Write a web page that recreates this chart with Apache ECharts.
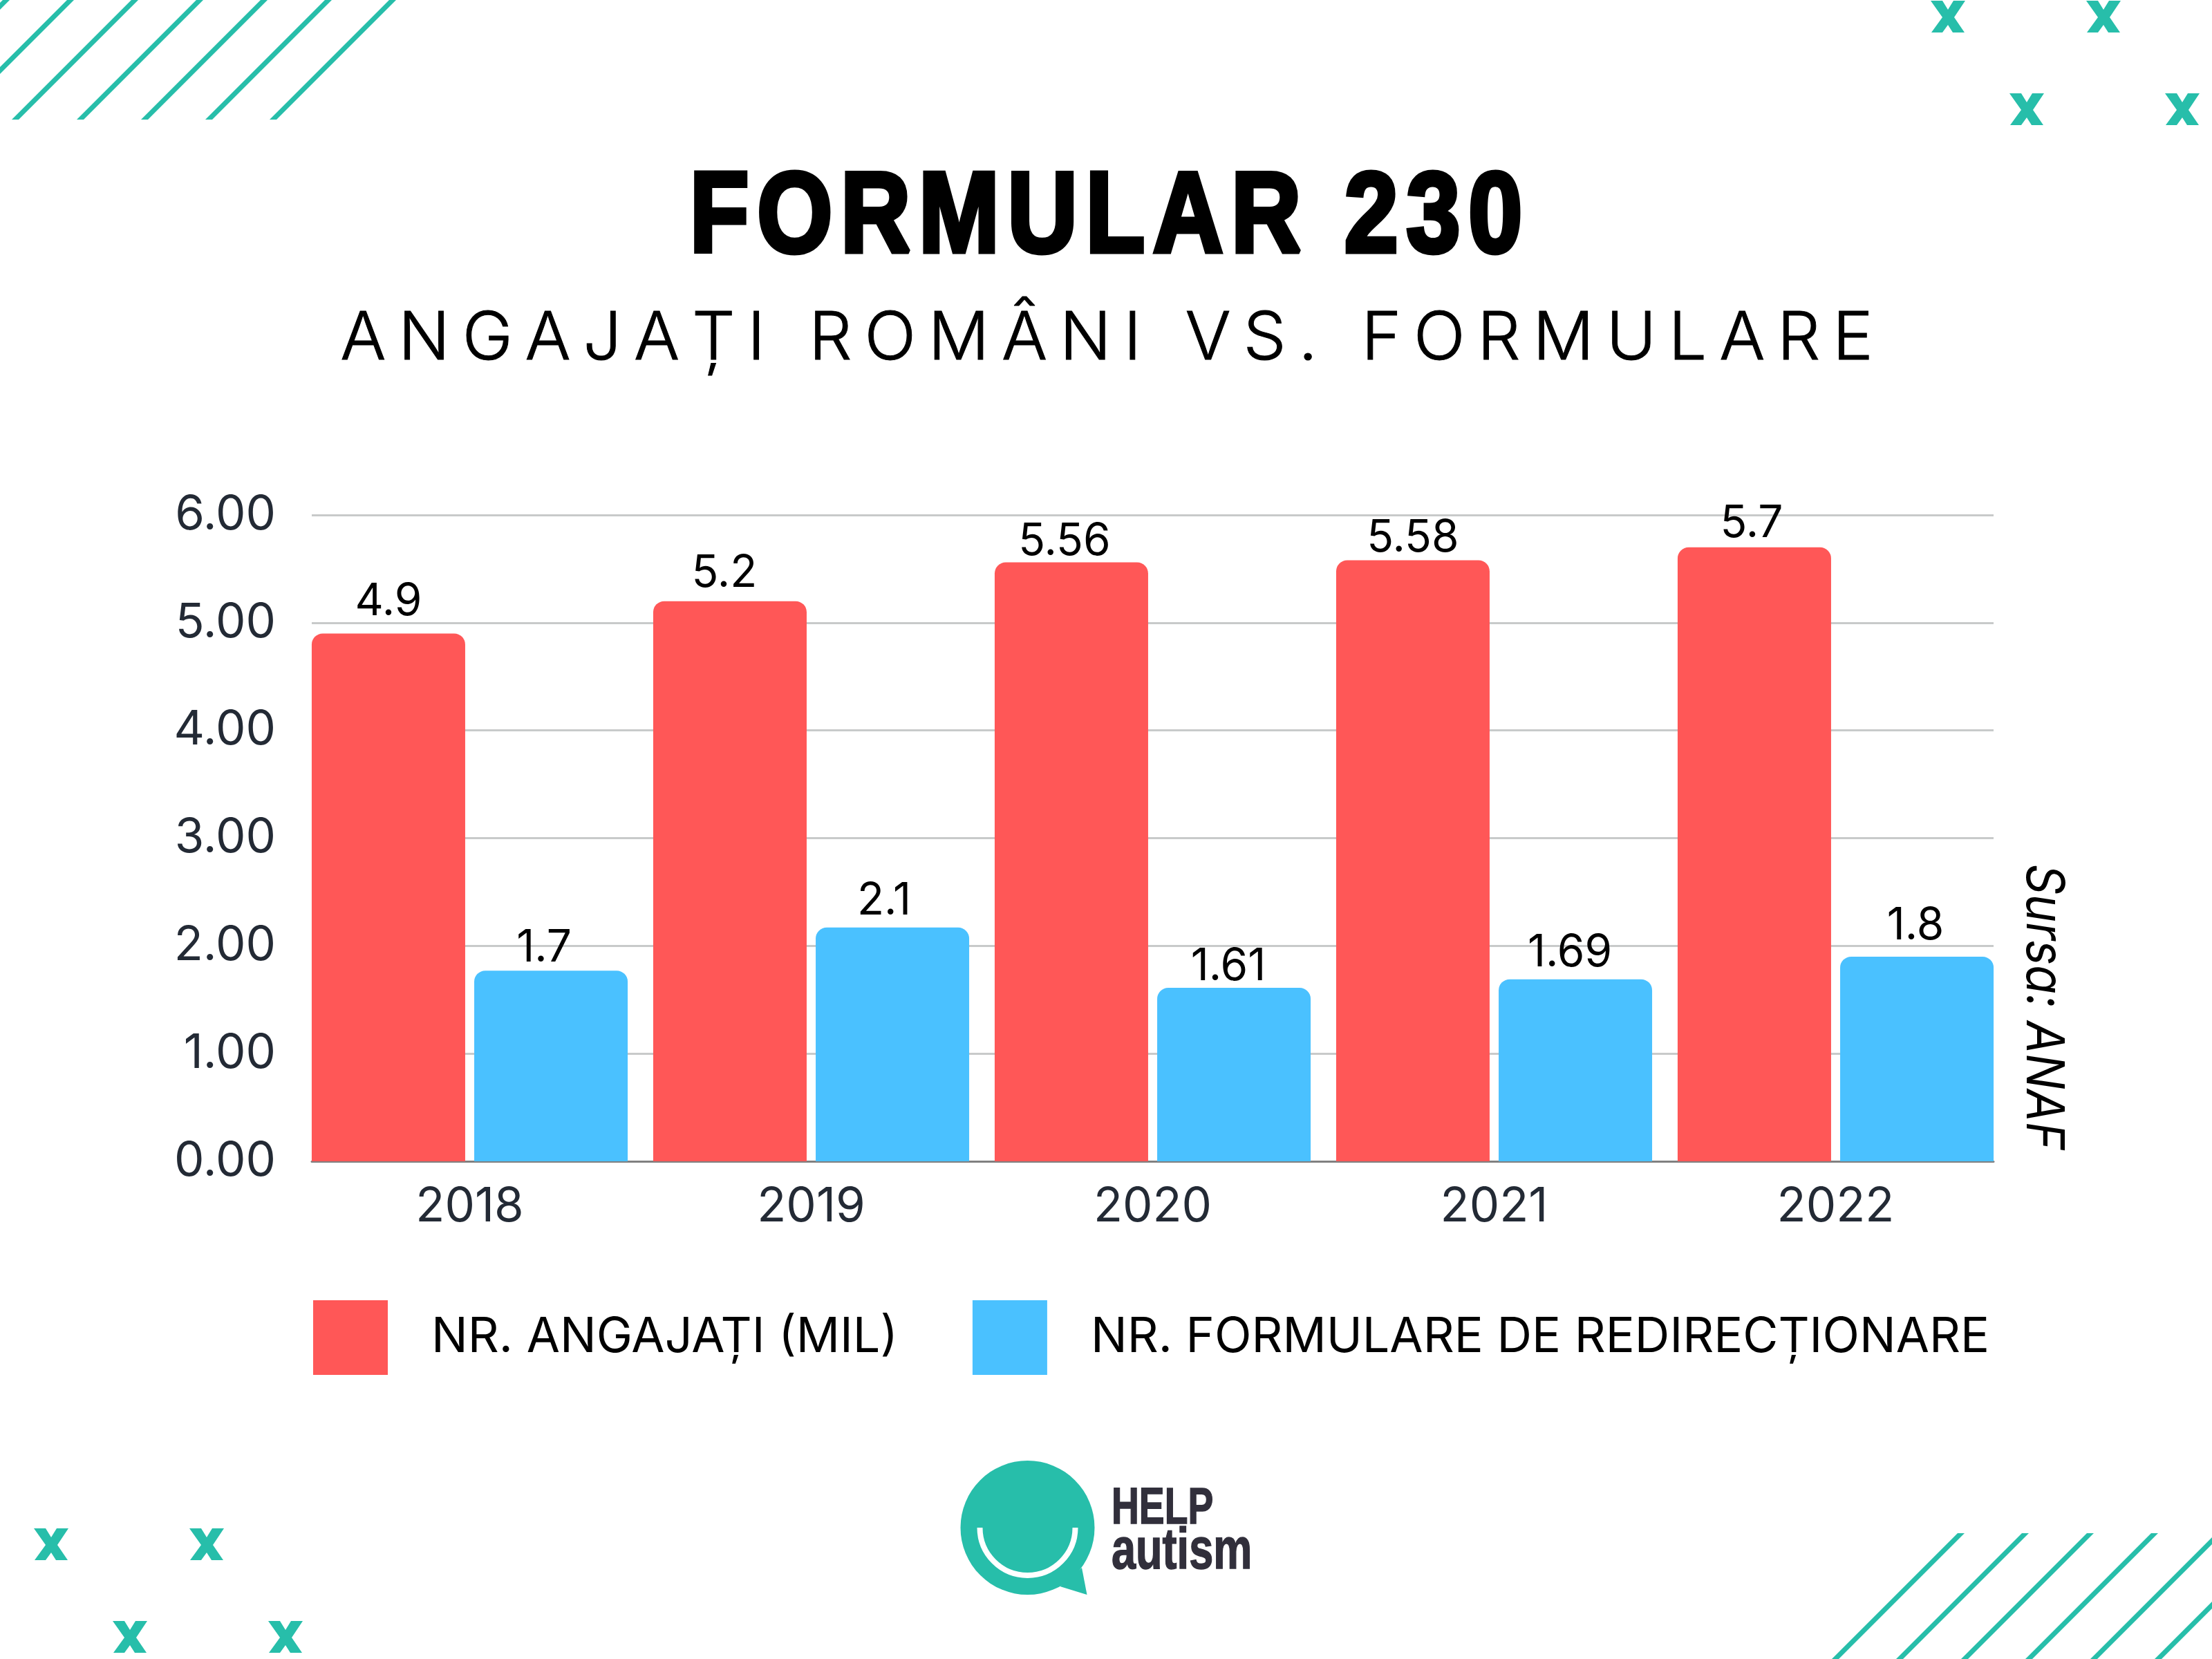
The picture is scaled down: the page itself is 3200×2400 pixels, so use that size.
<!DOCTYPE html>
<html>
<head>
<meta charset="utf-8">
<title>Formular 230</title>
<style>
html,body{margin:0;padding:0;background:#fff;}
#main{width:3200px;height:2400px;}
</style>
<script src="https://cdn.jsdelivr.net/npm/echarts@6/dist/echarts.min.js"></script>
</head>
<body>
<div id="main"></div>
<script>
// date
var years = ['2018', '2019', '2020', '2021', '2022'];
var employees = [4.9, 5.2, 5.56, 5.58, 5.7];
var forms = [1.77, 2.17, 1.61, 1.69, 1.9];
// etichetele tiparite difera putin de inaltimea barelor albastre
var employeeLabels = ['4.9', '5.2', '5.56', '5.58', '5.7'];
var formLabels = ['1.7', '2.1', '1.61', '1.69', '1.8'];
var seriesNames = ['NR. ANGAJAȚI (MIL)', 'NR. FORMULARE DE REDIRECȚIONARE'];
var titleText = 'FORMULAR 230';
var subtitleText = 'ANGAJAȚI ROMÂNI VS. FORMULARE';
var sourceText = 'Sursa: ANAF';

var RED = '#FF5757', BLUE = '#4AC1FF', TEAL = '#27BEAA', INK = '#232A35', LOGO_INK = '#312F3B';
var FONT = 'Inter';

// etichetele nu stau exact deasupra barelor in original
var employeeLabelShift = [[0, 0], [-8, 6], [-10, 16], [0, 14], [-4, 12]];
var formLabelShift = [[-10, 14], [-12, 8], [-8, 16], [-8, 8], [-2, 2]];

function barData(values, labels, shift) {
    return values.map(function (v, i) {
        return {
            value: v,
            label: {formatter: labels[i], offset: shift[i]}
        };
    });
}

// dungi si x-uri decorative
function stripes(starts, yBottom, yTop) {
    return starts.map(function (x) {
        var d = yBottom - yTop;
        return {
            type: 'polygon', silent: true,
            shape: {points: [[x - 5, yBottom], [x + 5, yBottom], [x + 5 + d, yTop], [x - 5 + d, yTop]]},
            style: {fill: TEAL}
        };
    });
}
function cross(x, y) {
    var pts = [[0, 0], [17, 0], [25, 13], [33, 0], [50, 0], [34, 24], [49, 46], [32, 46], [25, 35], [17, 46], [1, 46], [17, 24]];
    return {
        type: 'polygon', silent: true,
        shape: {points: pts.map(function (p) { return [p[0] + x, p[1] + y]; })},
        style: {fill: TEAL}
    };
}
function label(text, x, y, font, fill, opt) {
    opt = opt || {};
    return {
        type: 'text', silent: true, x: x, y: y,
        scaleX: opt.scaleX || 1, rotation: opt.rotation || 0,
        style: {
            text: text, font: font, fill: fill,
            stroke: opt.stroke || null, lineWidth: opt.lineWidth || 0,
            align: opt.align || 'left', verticalAlign: 'top'
        }
    };
}

var decor = []
    .concat(stripes([-164, -71, 22, 116, 209, 302, 395], 173, 0))
    .concat(stripes([2655, 2748, 2842, 2935, 3029, 3122], 2400, 2218))
    .concat([
        cross(2793, 1), cross(3018, 1), cross(2907, 135), cross(3132, 135),
        cross(49, 2211), cross(274, 2211), cross(163, 2345), cross(388, 2345)
    ]);

// sigla
var logo = [
    {type: 'circle', silent: true, shape: {cx: 1486.5, cy: 2210, r: 97}, style: {fill: TEAL}},
    {type: 'polygon', silent: true, shape: {points: [[1565, 2268], [1572.5, 2307], [1533.5, 2295]]}, style: {fill: TEAL}},
    {type: 'arc', silent: true, shape: {cx: 1486.5, cy: 2210, r: 69, startAngle: 0, endAngle: Math.PI, clockwise: true},
        style: {stroke: '#fff', lineWidth: 8, fill: null}},
    label('HELP', 1608, 2147, 'bold 74px "Liberation Sans"', LOGO_INK, {scaleX: 0.746, stroke: LOGO_INK, lineWidth: 1.5}),
    label('autism', 1608, 2205, 'bold 83px "Liberation Sans"', LOGO_INK, {scaleX: 0.76, stroke: LOGO_INK, lineWidth: 1.5})
];

var texts = [
    label(titleText.split('').join('\u200a'), 1600, 235, 'bold 166px "Liberation Sans"', '#000', {scaleX: 0.845, align: 'center', stroke: '#000', lineWidth: 7}),
    label(subtitleText.split('').join('\u2009'), 1601, 443, '300 96px ' + FONT, '#000', {align: 'center', scaleX: 1.023, stroke: '#000', lineWidth: 1}),
    label(sourceText, 2993, 1250, 'italic 76px ' + FONT, '#000', {rotation: -Math.PI / 2, scaleX: 0.9})
];

var chart = echarts.init(document.getElementById('main'));
chart.setOption({
    backgroundColor: '#fff',
    animation: false,
    textStyle: {fontFamily: FONT},
    legend: {
        left: 453, top: 1881, padding: 0, orient: 'horizontal',
        icon: 'rect', itemWidth: 108, itemHeight: 108, itemGap: 108,
        textStyle: {fontSize: 70, color: '#000', padding: [8, 0, 0, 58]},
        data: seriesNames
    },
    // grid 0: doar liniile de ghidaj, grid 1: barele (mai lat ca prima bara sa fie lipita de margine)
    grid: [
        {left: 451, right: 316, top: 745, bottom: 720},
        {left: 432.5, right: 297.5, top: 745, bottom: 720}
    ],
    xAxis: [
        {
            type: 'category', gridIndex: 0, data: years,
            axisLine: {lineStyle: {color: '#808080', width: 3}},
            axisTick: {show: false}, axisLabel: {show: false}
        },
        {
            type: 'category', gridIndex: 1, data: years,
            axisLine: {show: false}, axisTick: {show: false},
            axisLabel: {fontSize: 69, color: INK, margin: 32}
        }
    ],
    yAxis: [
        {
            type: 'value', gridIndex: 0, min: 0, max: 6, interval: 1,
            axisLine: {show: false}, axisTick: {show: false},
            axisLabel: {fontSize: 69, color: INK, margin: 52, padding: [12, 0, 0, 0], formatter: function (v) { return v.toFixed(2); }},
            splitLine: {lineStyle: {color: '#C8CACA', width: 3}}
        },
        {
            type: 'value', gridIndex: 1, min: 0, max: 6, interval: 1,
            axisLine: {show: false}, axisTick: {show: false},
            axisLabel: {show: false}, splitLine: {show: false}
        }
    ],
    series: [
        {
            name: seriesNames[0], type: 'bar', xAxisIndex: 1, yAxisIndex: 1,
            data: barData(employees, employeeLabels, employeeLabelShift), barWidth: 222, barGap: '5.9%',
            itemStyle: {color: RED, borderRadius: [16, 16, 0, 0]},
            label: {show: true, position: 'top', distance: 14, fontSize: 64, color: '#000'}
        },
        {
            name: seriesNames[1], type: 'bar', xAxisIndex: 1, yAxisIndex: 1,
            data: barData(forms, formLabels, formLabelShift), barWidth: 222,
            itemStyle: {color: BLUE, borderRadius: [16, 16, 0, 0]},
            label: {show: true, position: 'top', distance: 14, fontSize: 64, color: '#000'}
        }
    ],
    graphic: decor.concat(logo).concat(texts)
});
</script>
</body>
</html>
